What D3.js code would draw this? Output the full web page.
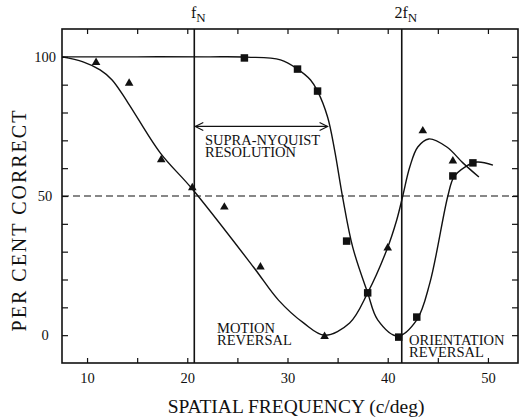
<!DOCTYPE html>
<html>
<head>
<meta charset="utf-8">
<script src="https://cdn.jsdelivr.net/npm/d3@7"></script>
<style>
  body { margin: 0; background: #fff; }
  svg text { font-family: "Liberation Serif", "DejaVu Serif", serif; fill: #111; }
</style>
</head>
<body>
<div id="chart"></div>
<script>
// ── Data ────────────────────────────────────────────────────────────────
const fN = 20.7;
const twoFN = 41.4;

// triangles: motion reversal
const motionPoints = [
    [10.9, 98], [14.2, 90.5], [17.4, 63], [20.5, 53], [23.7, 46],
    [27.3, 24.5], [33.7, -0.5], [40.0, 31.3], [43.5, 73.4], [46.5, 62.6]
];
// squares: orientation reversal
const orientPoints = [
    [25.7, 99.6], [31.0, 95.6], [33.0, 87.7], [35.9, 33.8], [38.0, 15.2],
    [41.1, -0.7], [42.9, 6.5], [46.5, 57.2], [48.5, 61.9]
];
// fitted curves, traced
const motionCurve = [
    [7.5, 100], [9.6, 98.2], [11.3, 95.3], [12.5, 91.7], [14.1, 83.4],
    [17.3, 65.5], [20.5, 52.5], [26.6, 24.5], [29.1, 12.6], [31.6, 4.4],
    [33.7, 0], [36.2, 4.4], [38.0, 15.2], [39.9, 30.6], [40.9, 41.4],
    [41.5, 50], [42.2, 60.4], [43.0, 67.6], [44.1, 70.5], [45.9, 67.6],
    [47.5, 61.9], [49.1, 56.8]
];
const orientCurve = [
    [7.5, 100], [15, 100], [22, 100], [26, 99.9], [29.3, 98.9],
    [31.0, 95.6], [32.3, 91.7], [33.0, 87.7], [34.0, 78.4], [34.7, 66.5],
    [35.5, 49.6], [36.5, 31.7], [38.0, 15.2], [39.0, 5.5], [41.0, -0.3],
    [42.9, 5.5], [44.2, 18.7], [46.0, 50], [46.6, 56.8], [47.7, 60.4],
    [48.9, 62.2], [50.5, 61.1]
];
const arrowY = 75;
const arrowX = [fN, 34.0];

const xTicks = [10, 15, 20, 25, 30, 35, 40, 45, 50];
const xLabels = [10, 20, 30, 40, 50];
const yTicks = [0, 10, 20, 30, 40, 50, 60, 70, 80, 90, 100];
const yLabels = [0, 50, 100];

// ── Layout ──────────────────────────────────────────────────────────────
const W = 523, H = 417;
const plotL = 62, plotR = 518, plotT = 29, plotB = 363;

const svg = d3.select("#chart").append("svg")
    .attr("width", W).attr("height", H);

const x = d3.scaleLinear().domain([7.5, 53]).range([plotL, plotR]);
const y = d3.scaleLinear().domain([-10, 110]).range([plotB, plotT]);

const ink = "#111";

// ── Axes (ticks point inward) ───────────────────────────────────────────
const fmtX = d => xLabels.includes(d) ? d : "";
const fmtY = d => yLabels.includes(d) ? d : "";

const axB = svg.append("g").attr("transform", `translate(0,${plotB})`)
    .call(d3.axisBottom(x).tickValues(xTicks).tickSizeInner(-5).tickSizeOuter(0)
        .tickPadding(10).tickFormat(fmtX));
const axT = svg.append("g").attr("transform", `translate(0,${plotT})`)
    .call(d3.axisTop(x).tickValues(xTicks).tickSizeInner(-5).tickSizeOuter(0)
        .tickFormat(""));
const axL = svg.append("g").attr("transform", `translate(${plotL},0)`)
    .call(d3.axisLeft(y).tickValues(yTicks).tickSizeInner(-6).tickSizeOuter(0)
        .tickFormat(fmtY));
const axR = svg.append("g").attr("transform", `translate(${plotR},0)`)
    .call(d3.axisRight(y).tickValues(yTicks).tickSizeInner(-6).tickSizeOuter(0)
        .tickFormat(""));

[axB, axT, axL, axR].forEach(a => {
    a.select(".domain").remove();
    a.selectAll("line").attr("stroke", ink).attr("stroke-width", 1.2);
    a.selectAll("text").style("font-size", "14.5px").attr("fill", ink)
        .style("font-family", "'Liberation Serif', 'DejaVu Serif', serif");
});
axL.selectAll("text").attr("text-anchor", "middle").attr("x", -17);

// frame
svg.append("rect")
    .attr("x", plotL).attr("y", plotT)
    .attr("width", plotR - plotL).attr("height", plotB - plotT)
    .attr("fill", "none").attr("stroke", ink).attr("stroke-width", 1.6);

// 50% chance line
svg.append("line")
    .attr("x1", plotL).attr("x2", plotR)
    .attr("y1", y(50)).attr("y2", y(50))
    .attr("stroke", ink).attr("stroke-width", 1.2)
    .attr("stroke-dasharray", "7,4");

// Nyquist lines
[fN, twoFN].forEach(f => {
    svg.append("line")
        .attr("x1", x(f)).attr("x2", x(f))
        .attr("y1", plotT).attr("y2", plotB)
        .attr("stroke", ink).attr("stroke-width", 1.6);
});

// ── Curves ──────────────────────────────────────────────────────────────
const line = d3.line()
    .x(d => x(d[0])).y(d => y(d[1]))
    .curve(d3.curveCatmullRom.alpha(0.5));

[motionCurve, orientCurve].forEach(c => {
    svg.append("path").datum(c)
        .attr("d", line)
        .attr("fill", "none").attr("stroke", ink).attr("stroke-width", 1.4);
});

// ── Markers ─────────────────────────────────────────────────────────────
svg.append("g").selectAll("path").data(motionPoints).join("path")
    .attr("transform", d => `translate(${x(d[0])},${y(d[1])})`)
    .attr("d", d3.symbol(d3.symbolTriangle, 32))
    .attr("fill", ink);

svg.append("g").selectAll("path").data(orientPoints).join("path")
    .attr("transform", d => `translate(${x(d[0])},${y(d[1])})`)
    .attr("d", d3.symbol(d3.symbolSquare, 56))
    .attr("fill", ink);

// ── Supra-Nyquist arrow ─────────────────────────────────────────────────
const defs = svg.append("defs");
defs.append("marker")
    .attr("id", "chev").attr("viewBox", "0 0 10 10")
    .attr("refX", 9).attr("refY", 5)
    .attr("markerWidth", 10).attr("markerHeight", 10)
    .attr("markerUnits", "userSpaceOnUse")
    .attr("orient", "auto-start-reverse")
    .append("path").attr("d", "M1,1 L9,5 L1,9")
    .attr("fill", "none").attr("stroke", ink).attr("stroke-width", 1.2);

svg.append("line")
    .attr("x1", x(arrowX[0]) + 1).attr("x2", x(arrowX[1]))
    .attr("y1", y(arrowY)).attr("y2", y(arrowY))
    .attr("stroke", ink).attr("stroke-width", 1.3)
    .attr("marker-start", "url(#chev)").attr("marker-end", "url(#chev)");

// ── Text ────────────────────────────────────────────────────────────────
function twoLine(xp, yp, l1, l2) {
    const t = svg.append("text").attr("x", xp).attr("y", yp).style("font-size", "14.5px");
    t.append("tspan").attr("x", xp).text(l1);
    t.append("tspan").attr("x", xp).attr("dy", 12).text(l2);
}
twoLine(205, 145, "SUPRA-NYQUIST", "RESOLUTION");
twoLine(217, 333, "MOTION", "REVERSAL");
twoLine(409, 345, "ORIENTATION", "REVERSAL");

function nyqLabel(f, pre) {
    const t = svg.append("text")
        .attr("x", x(f) + 4).attr("y", 18)
        .attr("text-anchor", "middle")
        .style("font-size", "16px");
    t.append("tspan").text(pre + "f");
    t.append("tspan").attr("dy", 4).style("font-size", "13px").text("N");
}
nyqLabel(fN, "");
nyqLabel(twoFN, "2");

svg.append("text")
    .attr("x", 296).attr("y", 413)
    .attr("text-anchor", "middle")
    .style("font-size", "19.5px")
    .text("SPATIAL FREQUENCY (c/deg)");

svg.append("text")
    .attr("transform", "translate(26,220) rotate(-90)")
    .attr("text-anchor", "middle")
    .style("font-size", "20px")
    .style("letter-spacing", "2px")
    .text("PER CENT CORRECT");
</script>
</body>
</html>
